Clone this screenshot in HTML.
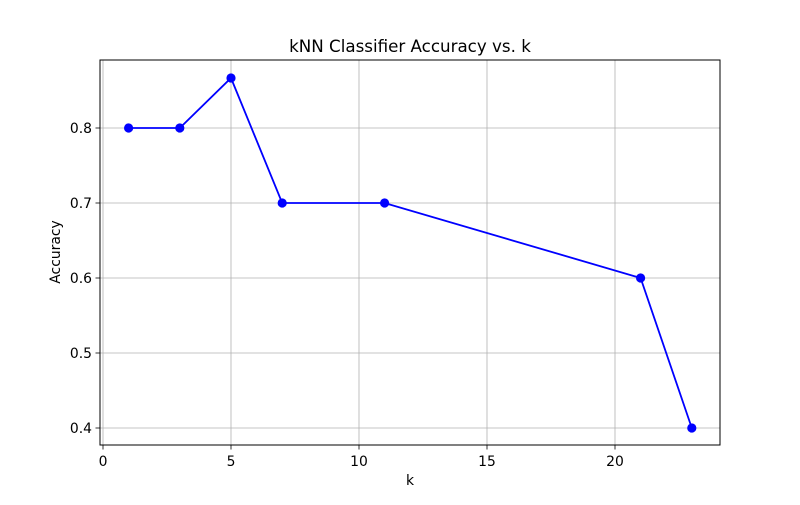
<!DOCTYPE html>
<html><head><meta charset="utf-8"><style>
body{margin:0;background:#fff;}
svg text{font-family:"DejaVu Sans","Liberation Sans",sans-serif;fill:#000;}
</style></head><body>
<svg id="chart" width="800" height="500" viewBox="0 0 800 500" xmlns="http://www.w3.org/2000/svg">
<rect x="0" y="0" width="800" height="500" fill="#fff"/>
<g id="grid"></g>
<g id="ticks"></g>
<rect x="100" y="60" width="620" height="385" fill="none" stroke="#000" stroke-width="1"/>
<g id="series"></g>
<text x="410" y="52" text-anchor="middle" font-size="16.7">kNN Classifier Accuracy vs. k</text>
<text x="410" y="485" text-anchor="middle" font-size="13.9">k</text>
<text x="0" y="0" transform="translate(60,252) rotate(-90)" text-anchor="middle" font-size="13.9">Accuracy</text>
</svg>
<script>
const kValues = [1, 3, 5, 7, 11, 21, 23];
const accuracy = [0.8, 0.8, 0.8667, 0.7, 0.7, 0.6, 0.4];
const xTicks = [0, 5, 10, 15, 20];
const yTicks = [0.4, 0.5, 0.6, 0.7, 0.8];
const yTickLabels = ["0.4", "0.5", "0.6", "0.7", "0.8"];

const NS = "http://www.w3.org/2000/svg";
function xs(v){ return 103 + v * 25.6; }
function ys(v){ return 128 - (v - 0.8) * 750; }
function mk(tag, attrs, parent){
  const e = document.createElementNS(NS, tag);
  for (const k in attrs) e.setAttribute(k, attrs[k]);
  parent.appendChild(e);
  return e;
}
const grid = document.getElementById('grid');
const ticks = document.getElementById('ticks');
const series = document.getElementById('series');

xTicks.forEach(t => {
  const x = xs(t);
  const g = mk('line', {x1:x, x2:x, y1:60, y2:445, stroke:'#b0b0b0', 'stroke-width':0.8}, grid);
  
  
  mk('line', {x1:x, x2:x, y1:445, y2:449.5, stroke:'#000', 'stroke-width':0.8}, ticks);
  const tx = mk('text', {x:x, y:466, 'text-anchor':'middle', 'font-size':13.9}, ticks);
  tx.textContent = t;
  
  
});
yTicks.forEach((t, i) => {
  const y = ys(t);
  const g = mk('line', {x1:100, x2:720, y1:y, y2:y, stroke:'#b0b0b0', 'stroke-width':0.8}, grid);
  
  
  mk('line', {x1:95.5, x2:100, y1:y, y2:y, stroke:'#000', 'stroke-width':0.8}, ticks);
  const tx = mk('text', {x:92, y:y + 5, 'text-anchor':'end', 'font-size':13.9}, ticks);
  tx.textContent = yTickLabels[i];
  
  
});

const pts = kValues.map((k, i) => xs(k) + ',' + ys(accuracy[i])).join(' ');
const line = mk('polyline', {points:pts, fill:'none', stroke:'#0000ff', 'stroke-width':1.8}, series);


kValues.forEach((k, i) => {
  const c = mk('circle', {cx:xs(k), cy:ys(accuracy[i]), r:4.6, fill:'#0000ff'}, series);
  
  
});
</script>
</body></html>
